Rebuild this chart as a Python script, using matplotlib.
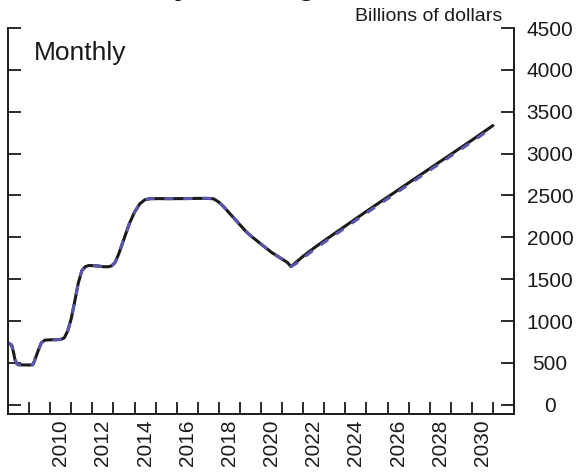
import matplotlib
matplotlib.use("Agg")
import matplotlib.pyplot as plt

plt.rcParams['font.family'] = ['Liberation Sans', 'DejaVu Sans']

# Holdings, billions of dollars (decimal years)
years = [2008.00, 2008.17, 2008.25, 2008.33, 2008.42, 2008.50, 2008.75, 2009.00,
         2009.17, 2009.25, 2009.42, 2009.58, 2009.75, 2010.00, 2010.25, 2010.50,
         2010.67, 2010.83, 2011.00, 2011.17, 2011.33, 2011.50, 2011.67, 2011.83,
         2012.00, 2012.25, 2012.50, 2012.75, 2012.92, 2013.08, 2013.25, 2013.50,
         2013.75, 2014.00, 2014.25, 2014.50, 2014.75, 2015.00, 2015.50, 2016.00,
         2016.50, 2017.00, 2017.50, 2017.75, 2018.00, 2018.25, 2018.50, 2018.75,
         2019.00, 2019.25, 2019.50, 2019.75, 2020.00, 2020.25, 2020.50, 2020.75,
         2021.00, 2021.25, 2021.42, 2021.75, 2022.00, 2022.50, 2023.00, 2024.00,
         2025.00, 2026.00, 2027.00, 2028.00, 2029.00, 2030.00, 2031.00]
actual = [740, 715, 640, 540, 490, 478, 476, 475,
          478, 520, 640, 740, 772, 776, 777, 780,
          800, 880, 1030, 1240, 1450, 1600, 1650, 1663,
          1662, 1658, 1650, 1648, 1660, 1700, 1800, 1980,
          2160, 2300, 2400, 2450, 2462, 2462, 2462, 2462,
          2463, 2465, 2465, 2460, 2420, 2360, 2290, 2220,
          2150, 2080, 2020, 1970, 1920, 1870, 1820, 1780,
          1740, 1700, 1650, 1720, 1775, 1870, 1960, 2135,
          2310, 2480, 2650, 2820, 2990, 3160, 3335]
projected = [740, 715, 640, 540, 490, 478, 476, 475,
             478, 520, 640, 740, 772, 776, 777, 780,
             800, 880, 1030, 1240, 1450, 1600, 1650, 1663,
             1662, 1658, 1650, 1648, 1660, 1700, 1800, 1980,
             2160, 2300, 2400, 2450, 2462, 2462, 2462, 2462,
             2463, 2465, 2465, 2460, 2420, 2360, 2290, 2220,
             2150, 2080, 2020, 1970, 1920, 1870, 1820, 1780,
             1740, 1700, 1650, 1700, 1755, 1850, 1940, 2115,
             2290, 2460, 2630, 2800, 2970, 3140, 3315]

year_ticks = list(range(2009, 2032))
year_labels = [str(y) for y in range(2010, 2031, 2)]
y_ticks = list(range(0, 4501, 500))

fig = plt.figure(figsize=(5.8, 4.76), dpi=100)
ax = fig.add_axes([8 / 580, 1 - 414 / 476, 506 / 580, 386 / 476])

ax.plot(years, actual, color='#1a1a1a', lw=2.2, solid_capstyle='round')
ax.plot(years, projected, color='#5a56a8', lw=2.2, dashes=(3, 3.2))

ax.set_xlim(2008, 2032)
ax.set_ylim(-110, 4500)

ax.spines['top'].set_visible(False)
for s in ['left', 'right', 'bottom']:
    ax.spines[s].set_linewidth(1.4)
    ax.spines[s].set_color('#1a1a1a')

ax.set_xticks(year_ticks)
ax.set_xticklabels([])
ax.set_xticks([int(l) + 0.5 for l in year_labels], minor=True)
ax.set_xticklabels(year_labels, minor=True, rotation=90, fontsize=15)
ax.tick_params(axis='x', which='major', direction='in', length=9, width=1.3, color='#1a1a1a')
ax.tick_params(axis='x', which='minor', length=0, pad=4, labelcolor='#1a1a1a')

ax.set_yticks(y_ticks)
ax.set_yticks([4500], minor=True)
ax.tick_params(axis='y', which='major', direction='in', length=9.5, width=1.3,
               left=True, right=True, labelleft=False, labelright=True,
               labelsize=15, pad=26, color='#1a1a1a', labelcolor='#1a1a1a')
ax.tick_params(axis='y', which='minor', direction='in', length=17, width=1.3,
               left=True, right=True, labelleft=False, labelright=False, color='#1a1a1a')
for lab in ax.get_yticklabels():
    lab.set_horizontalalignment('center')

fig.text(34 / 580, 1 - 60 / 476, 'Monthly', fontsize=19, va='baseline', color='#1a1a1a')
fig.text(502 / 580, 1 - 21 / 476, 'Billions of dollars', fontsize=14, ha='right',
         va='baseline', color='#1a1a1a')
fig.text(61 / 580, 1 + 6 / 476, 'Treasury Holdings', fontsize=22.5, fontweight='bold',
         ha='left', va='baseline', color='#1a1a1a')

fig.savefig('out.png', dpi=100)
